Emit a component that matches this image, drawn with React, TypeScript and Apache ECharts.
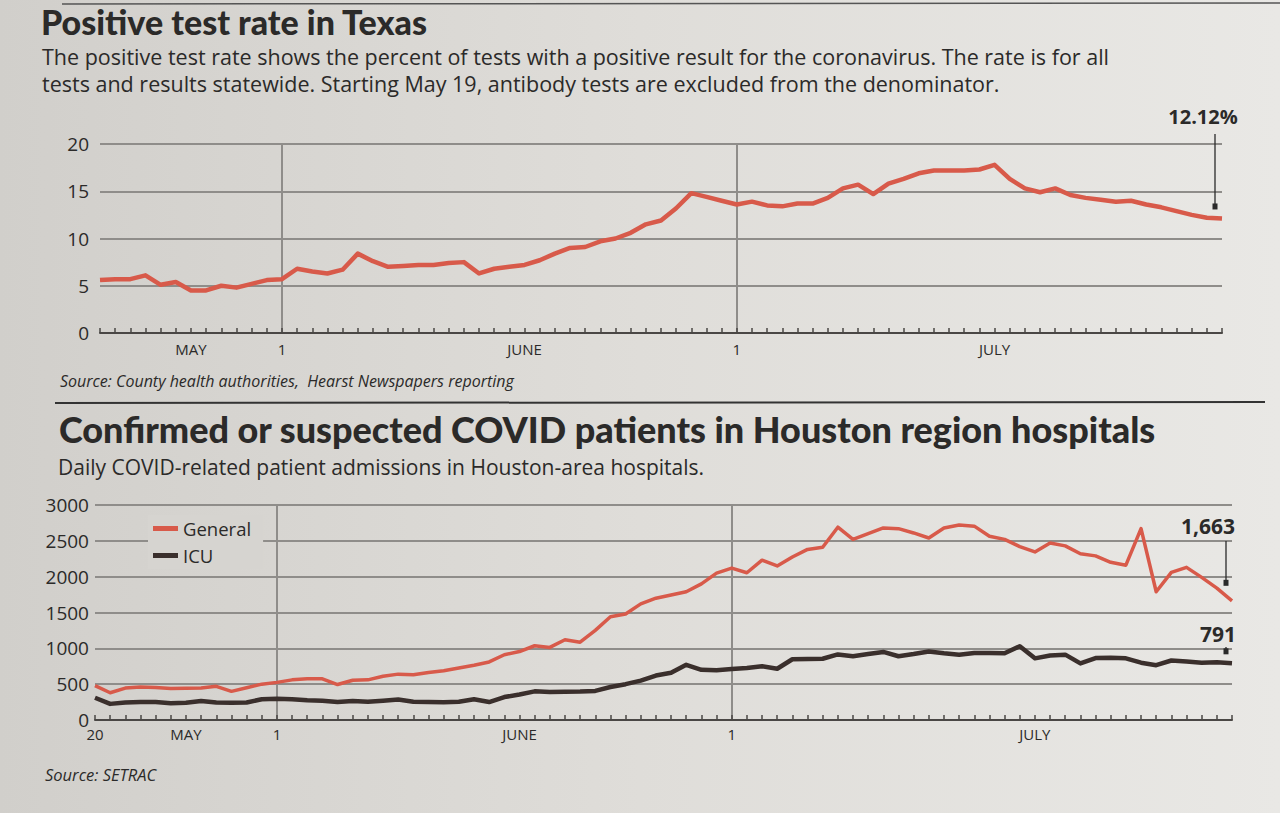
import React, { useEffect, useRef } from "react";
import * as echarts from "echarts";

// ---------- DATA ----------
const START_DAY = "2020-05-20";

// Positive test rate in Texas (%), daily from May 20
const positiveRate = [
  5.6, 5.7, 5.7, 6.1, 5.1, 5.4, 4.5, 4.5, 5.0, 4.8,
  5.2, 5.6, 5.7, 6.8, 6.5, 6.3, 6.7, 8.4, 7.6, 7.0,
  7.1, 7.2, 7.2, 7.4, 7.5, 6.3, 6.8, 7.0, 7.2, 7.7,
  8.4, 9.0, 9.1, 9.7, 10.0, 10.6, 11.5, 11.9, 13.2, 14.8,
  14.4, 14.0, 13.6, 13.9, 13.5, 13.4, 13.7, 13.7, 14.3, 15.3,
  15.7, 14.7, 15.8, 16.3, 16.9, 17.2, 17.2, 17.2, 17.3, 17.8,
  16.3, 15.3, 14.9, 15.3, 14.6, 14.3, 14.1, 13.9, 14.0, 13.6,
  13.3, 12.9, 12.5, 12.2, 12.12,
];

// Houston region hospitals, daily from May 20
const generalPatients = [
  480, 380, 445, 462, 455, 441, 443, 448, 470, 400,
  450, 500, 525, 560, 576, 575, 495, 555, 560, 610,
  640, 632, 664, 688, 726, 765, 810, 910, 955, 1036,
  1013, 1120, 1085, 1250, 1440, 1480, 1620, 1700, 1745, 1790,
  1900, 2050, 2120, 2055, 2230, 2150, 2275, 2380, 2410, 2690,
  2520, 2600, 2680, 2670, 2610, 2540, 2680, 2720, 2705, 2565,
  2520, 2420, 2345, 2470, 2430, 2320, 2290, 2200, 2160, 2670,
  1790, 2060, 2130, 1990, 1840, 1663,
];
const icuPatients = [
  310, 225, 245, 250, 250, 235, 240, 265, 245, 240,
  245, 290, 295, 290, 275, 270, 250, 264, 255, 270,
  285, 255, 250, 248, 255, 290, 250, 320, 355, 400,
  392, 395, 398, 406, 460, 500, 550, 620, 660, 770,
  700, 695, 712, 726, 749, 715, 848, 850, 855, 915,
  890, 920, 950, 890, 920, 955, 930, 910, 935, 935,
  932, 1030, 860, 900, 912, 790, 865, 870, 860, 800,
  765, 830, 817, 800, 805, 791,
];

// Tick labels keyed by date
const topTickLabels: Record<string, string> = {
  "2020-05-26": "MAY",
  "2020-06-01": "1",
  "2020-06-17": "JUNE",
  "2020-07-01": "1",
  "2020-07-18": "JULY",
};
const bottomTickLabels: Record<string, string> = {
  "2020-05-20": "20",
  "2020-05-26": "MAY",
  "2020-06-01": "1",
  "2020-06-17": "JUNE",
  "2020-07-01": "1",
  "2020-07-21": "JULY",
};
const monthStarts = ["2020-06-01", "2020-07-01"];

const topEndLabel = "12.12%";
const generalEndLabel = "1,663";
const icuEndLabel = "791";

// ---------- HELPERS ----------
function dayList(n: number): string[] {
  const out: string[] = [];
  const t0 = Date.parse(START_DAY + "T00:00:00Z");
  for (let i = 0; i < n; i++) {
    const d = new Date(t0 + i * 86400000);
    const mm = String(d.getUTCMonth() + 1).padStart(2, "0");
    const dd = String(d.getUTCDate()).padStart(2, "0");
    out.push(`${d.getUTCFullYear()}-${mm}-${dd}`);
  }
  return out;
}

const topDates = dayList(positiveRate.length);
const bottomDates = dayList(generalPatients.length);

const RED = "#d85a4a";
const DARK = "#3a2f2c";
const GRID = "#8f8d8a";
const AXIS = "#4a4745";
const TEXT = "#2b2a29";
const SANS = "'Open Sans', 'Noto Sans', sans-serif";
const HEAVY = "Lato, 'Open Sans', sans-serif";

function xAxisFor(
  gridIndex: number,
  dates: string[],
  labels: Record<string, string>,
  margin: number
) {
  return {
    type: "category",
    gridIndex,
    data: dates,
    boundaryGap: false,
    axisLine: { show: true, lineStyle: { color: AXIS, width: 2 } },
    axisTick: {
      show: true,
      inside: true,
      length: 5,
      interval: 0,
      lineStyle: { color: AXIS, width: 1.5 },
    },
    axisLabel: {
      interval: 0,
      formatter: (v: string) => labels[v] ?? "",
      color: TEXT,
      fontSize: 15,
      fontFamily: SANS,
      margin,
    },
    splitLine: {
      show: true,
      interval: (_i: number, v: string) => monthStarts.includes(v),
      lineStyle: { color: GRID, width: 2 },
    },
  };
}

export default function App() {
  const ref = useRef<HTMLDivElement>(null);

  useEffect(() => {
    if (!ref.current) return;
    const chart = echarts.init(ref.current, null, { renderer: "svg" });

    chart.setOption({
      animation: false,
      backgroundColor: {
        type: "linear",
        x: 0,
        y: 0,
        x2: 1,
        y2: 0,
        colorStops: [
          { offset: 0, color: "#d1cfcb" },
          { offset: 0.5, color: "#dfddd9" },
          { offset: 1, color: "#e9e8e5" },
        ],
      },
      textStyle: { fontFamily: SANS },
      grid: [
        { left: 100, right: 58, top: 144, bottom: 813 - 333 },
        { left: 95, right: 48, top: 505, bottom: 813 - 720 },
      ],
      xAxis: [
        xAxisFor(0, topDates, topTickLabels, 8),
        xAxisFor(1, bottomDates, bottomTickLabels, 6),
      ],
      yAxis: [
        {
          type: "value",
          gridIndex: 0,
          min: 0,
          max: 20,
          interval: 5,
          axisLine: { show: false },
          axisTick: { show: false },
          axisLabel: { color: TEXT, fontSize: 19, fontFamily: SANS, margin: 11 },
          splitLine: { lineStyle: { color: GRID, width: 2 } },
        },
        {
          type: "value",
          gridIndex: 1,
          min: 0,
          max: 3000,
          interval: 500,
          axisLine: { show: false },
          axisTick: { show: false },
          axisLabel: {
            color: TEXT,
            fontSize: 19,
            fontFamily: SANS,
            margin: 6,
            formatter: (v: number) => String(v),
          },
          splitLine: { lineStyle: { color: GRID, width: 2 } },
        },
      ],
      legend: {
        data: ["General", "ICU"],
        orient: "vertical",
        left: 148,
        top: 515,
        icon: "rect",
        itemWidth: 25,
        itemHeight: 5,
        itemGap: 8,
        padding: [4, 12, 4, 5],
        backgroundColor: "#d6d4d0",
        textStyle: { color: TEXT, fontSize: 18.5, fontFamily: SANS },
      },
      series: [
        {
          name: "Positive rate",
          type: "line",
          xAxisIndex: 0,
          yAxisIndex: 0,
          data: positiveRate,
          showSymbol: false,
          symbol: "none",
          lineStyle: { color: RED, width: 4.5, join: "round" },
          itemStyle: { color: RED },
          z: 3,
        },
        {
          name: "General",
          type: "line",
          xAxisIndex: 1,
          yAxisIndex: 1,
          data: generalPatients,
          showSymbol: false,
          symbol: "none",
          lineStyle: { color: RED, width: 3.5, join: "round" },
          itemStyle: { color: RED },
          z: 3,
        },
        {
          name: "ICU",
          type: "line",
          xAxisIndex: 1,
          yAxisIndex: 1,
          data: icuPatients,
          showSymbol: false,
          symbol: "none",
          lineStyle: { color: DARK, width: 4.5, join: "round" },
          itemStyle: { color: DARK },
          z: 3,
        },
      ],
    });

    const pTop = chart.convertToPixel({ xAxisIndex: 0, yAxisIndex: 0 }, [
      positiveRate.length - 1,
      positiveRate[positiveRate.length - 1],
    ]) as number[];
    const pTopMax = chart.convertToPixel({ xAxisIndex: 0, yAxisIndex: 0 }, [
      positiveRate.length - 1,
      20,
    ]) as number[];
    const pGen = chart.convertToPixel({ xAxisIndex: 1, yAxisIndex: 1 }, [
      generalPatients.length - 1,
      generalPatients[generalPatients.length - 1],
    ]) as number[];
    const pIcu = chart.convertToPixel({ xAxisIndex: 1, yAxisIndex: 1 }, [
      icuPatients.length - 1,
      icuPatients[icuPatients.length - 1],
    ]) as number[];

    const pointer = (id: string, x: number, y1: number, y2: number) => [
      {
        type: "line",
        id: id + "-l",
        z: 20,
        shape: { x1: x, y1, x2: x, y2 },
        style: { stroke: "#2a2a2a", lineWidth: 1.3 },
      },
      {
        type: "rect",
        id: id + "-r",
        z: 20,
        shape: { x: x - 2.5, y: y2 - 3, width: 5, height: 6 },
        style: { fill: "#2a2a2a" },
      },
    ];

    const text = (
      id: string,
      x: number,
      y: number,
      t: string,
      size: number,
      weight: string | number,
      family: string,
      extra: any = {}
    ) => ({
      type: "text",
      id,
      x,
      y,
      z: 20,
      style: {
        text: t,
        fontSize: size,
        fontWeight: weight,
        fontFamily: family,
        fill: TEXT,
        textVerticalAlign: "middle",
        ...extra,
      },
    });

    chart.setOption({
      graphic: [
        { type: "line", id: "rule0", shape: { x1: 62, y1: 4, x2: 1280, y2: 3 }, style: { stroke: "#555", lineWidth: 1.5 } },
        text("t1", 41, 21, "Positive test rate in Texas", 34, 900, HEAVY),
        text(
          "s1a",
          42,
          56,
          "The positive test rate shows the percent of tests with a positive result for the coronavirus. The rate is for all",
          21.5,
          "normal",
          SANS
        ),
        text(
          "s1b",
          42,
          83,
          "tests and results statewide. Starting May 19, antibody tests are excluded from the denominator.",
          21.5,
          "normal",
          SANS
        ),
        text("v1", pTop[0] - 19, 116, topEndLabel, 20, "bold", SANS, { textAlign: "center" }),
        ...pointer("p1", pTop[0] - 7, pTopMax[1] - 10, pTop[1] - 12),
        text(
          "src1",
          60,
          381,
          "Source: County health authorities,  Hearst Newspapers reporting",
          16,
          "normal",
          SANS,
          { fontStyle: "italic" }
        ),
        { type: "line", id: "rule1", shape: { x1: 55, y1: 403, x2: 1265, y2: 402 }, style: { stroke: "#333", lineWidth: 2 } },
        text(
          "t2",
          59,
          429,
          "Confirmed or suspected COVID patients in Houston region hospitals",
          36,
          900,
          HEAVY
        ),
        text("s2", 58, 467, "Daily COVID-related patient admissions in Houston-area hospitals.", 21, "normal", SANS),
        text("v2", pGen[0] - 24, 526, generalEndLabel, 21, "bold", SANS, { textAlign: "center" }),
        ...pointer("p2", pGen[0] - 6, 541, pGen[1] - 18),
        text("v3", pIcu[0] - 14, 634, icuEndLabel, 21, "bold", SANS, { textAlign: "center" }),
        ...pointer("p3", pIcu[0] - 6, 647, pIcu[1] - 12),
        text("src2", 45, 774, "Source: SETRAC", 16.5, "normal", SANS, { fontStyle: "italic" }),
      ],
    });

    return () => chart.dispose();
  }, []);

  return (
    <div
      ref={ref}
      style={{ position: "fixed", left: 0, top: 0, width: 1280, height: 813 }}
    />
  );
}
